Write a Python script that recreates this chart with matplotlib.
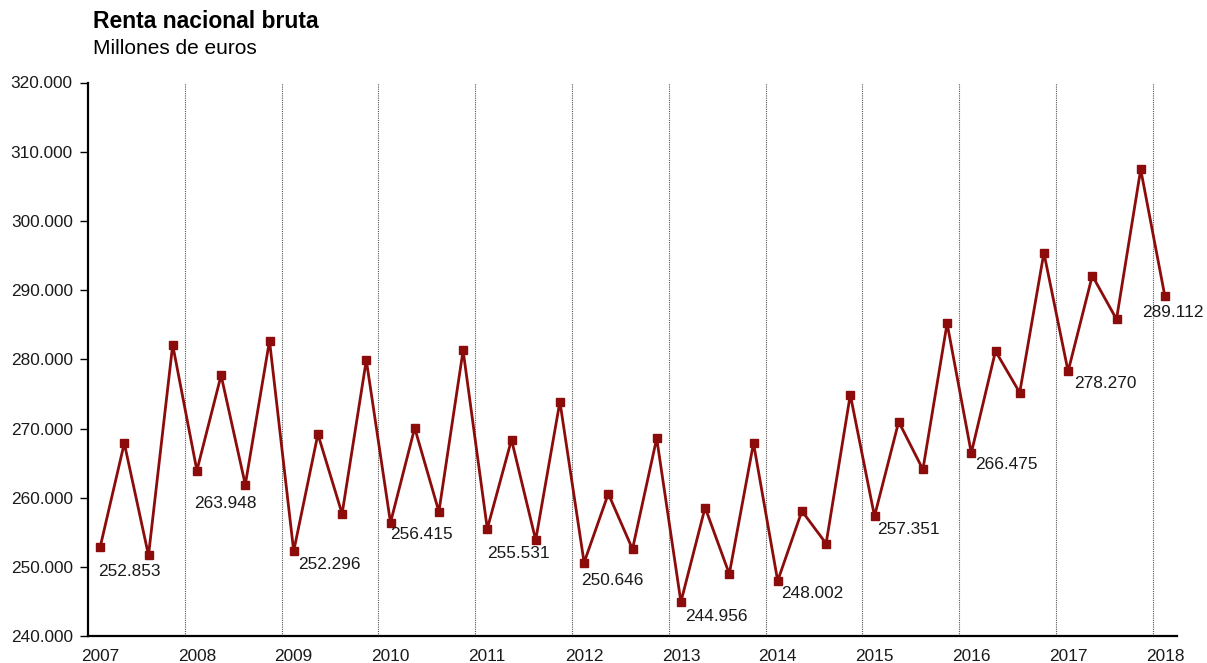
import matplotlib
matplotlib.use("Agg")
import matplotlib.pyplot as plt
import numpy as np

plt.rcParams['font.family'] = ['Liberation Sans', 'DejaVu Sans']

# Quarterly data, 2007 Q1 to 2018 Q1 (millones de euros)
years = list(range(2007, 2019))
renta = [
    252.853, 267.9, 251.7, 282.1,
    263.948, 277.7, 261.9, 282.7,
    252.296, 269.2, 257.7, 279.9,
    256.415, 270.1, 258.0, 281.3,
    255.531, 268.4, 253.9, 273.9,
    250.646, 260.6, 252.6, 268.6,
    244.956, 258.6, 249.0, 267.9,
    248.002, 258.1, 253.4, 274.9,
    257.351, 271.0, 264.1, 285.2,
    266.475, 281.2, 275.2, 295.4,
    278.270, 292.1, 285.8, 307.45,
    289.112,
]

# label placement (pixels: dx to text left edge, dy down to text centre)
label_offsets = [(-2, 24), (-3, 33), (4, 13), (0, 12), (0, 25), (-3, 18),
                 (4, 15), (3, 13), (3, 13), (4, 11), (6, 12), (-23, 16)]

LINE_COLOR = '#8c0b0b'
TEXT_COLOR = '#1a1a1a'

fig = plt.figure(figsize=(12.07, 6.63), dpi=100)
ax = fig.add_axes([88 / 1207, 1 - 636.3 / 663, 1089 / 1207, 553.8 / 663])

x = np.arange(len(renta))
ax.plot(x, renta, color=LINE_COLOR, linewidth=2.0, marker='s',
        markersize=5.5, markerfacecolor=LINE_COLOR, markeredgecolor=LINE_COLOR,
        zorder=3)

# year separators
for k in range(1, len(years)):
    ax.axvline(4 * k - 0.5, color='#555555', linewidth=0.8,
               linestyle=(0, (1, 1)), zorder=1)

# data labels on first quarter of each year
for i, (dx, dy) in enumerate(label_offsets):
    idx = 4 * i
    val = renta[idx]
    ax.annotate(f"{val:.3f}", (idx, val), xytext=(dx, -dy),
                textcoords='offset pixels', ha='left', va='center',
                fontsize=12.4, color=TEXT_COLOR, zorder=4)

ax.set_xlim(-0.5, len(renta) - 0.5)
ax.set_ylim(240, 320)
ax.set_yticks(np.arange(240, 321, 10))
ax.set_yticklabels([f"{v:d}.000" for v in range(240, 321, 10)])
ax.set_xticks([4 * k for k in range(len(years))])
ax.set_xticklabels([str(y) for y in years])

ax.tick_params(axis='y', direction='out', length=6, width=1, labelsize=12.4,
               pad=5, colors='black')
ax.tick_params(axis='x', length=0, labelsize=12.4, pad=9)
for t in ax.get_xticklabels() + ax.get_yticklabels():
    t.set_color(TEXT_COLOR)

for side in ['top', 'right']:
    ax.spines[side].set_visible(False)
for side in ['left', 'bottom']:
    ax.spines[side].set_linewidth(1.6)
    ax.spines[side].set_color('black')

fig.text(93 / 1207, 1 - 22 / 663, 'Renta nacional bruta', fontsize=16.5,
         fontweight='bold', ha='left', va='center', color='black')
fig.text(93 / 1207, 1 - 48 / 663, 'Millones de euros', fontsize=15,
         ha='left', va='center', color='black')

fig.savefig('out.png', dpi=100)
